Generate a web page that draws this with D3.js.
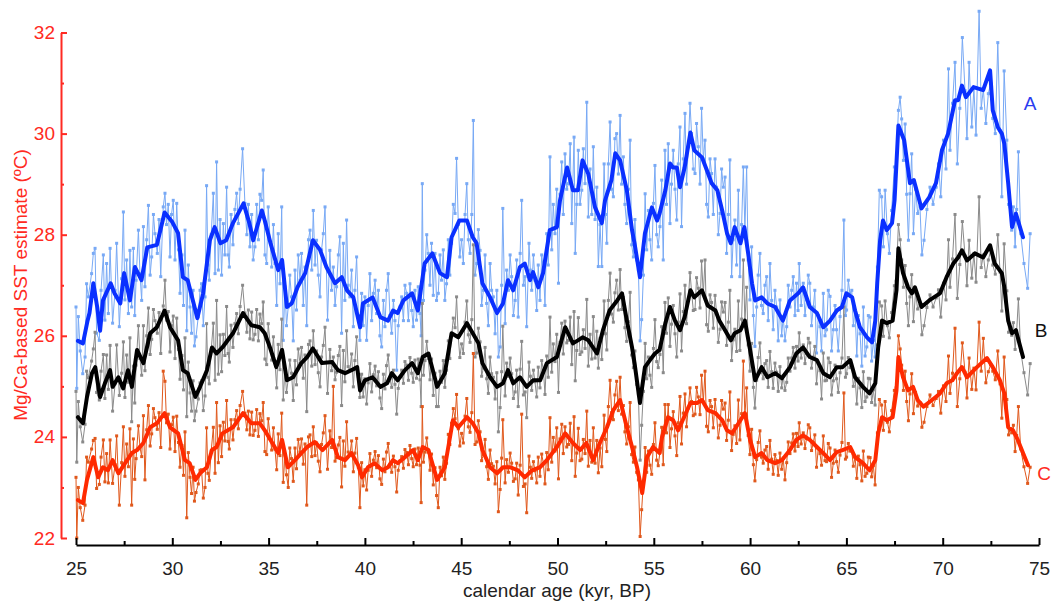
<!DOCTYPE html>
<html><head><meta charset="utf-8">
<script src="https://cdn.jsdelivr.net/npm/d3@7"></script>
<style>body{margin:0;background:#fff}svg{display:block}</style>
</head><body><svg id="c" width="1053" height="606"></svg>
<script>
const xTicks=[25,30,35,40,45,50,55,60,65,70,75];
const xMinor=[27.5,32.5,37.5,42.5,47.5,52.5,57.5,62.5,67.5,72.5];
const yTicks=[22,24,26,28,30,32];
const yMinor=[23,25,27,29,31];
const seriesLabels=["A","B","C"];
const xTitle="calendar age (kyr, BP)";
const yTitle="Mg/Ca-based SST estimate (ºC)";

const rawA=[
[25.00,26.57],[25.04,24.96],[25.12,26.38],[25.22,25.7],[25.35,25.25],[25.47,25.58],[25.55,27.03],[25.64,26.77],[25.81,27.23],[25.90,27.63],[25.99,27.73],[26.07,26.05],[26.21,25.91],[26.30,26.9],[26.42,27.6],[26.50,26.31],[26.59,27.43],[26.68,26.44],[26.77,27.73],[26.90,26.25],[27.03,26.9],[27.11,27.83],[27.25,26.18],[27.37,27.13],[27.46,28.45],[27.54,26.71],[27.63,27.5],[27.72,26.44],[27.80,27.69],[27.89,26.57],[27.98,27.73],[28.05,26.4],[28.12,27.1],[28.24,28.09],[28.32,27.23],[28.41,26.7],[28.50,28.16],[28.58,26.97],[28.67,27.9],[28.76,28.58],[28.85,27.2],[28.93,27.56],[29.02,28.4],[29.10,28.02],[29.22,27.63],[29.31,28.3],[29.40,27.17],[29.53,28.55],[29.62,28.82],[29.70,28.2],[29.79,28.6],[29.88,27.56],[29.96,28.4],
[30.05,28.68],[30.14,27.5],[30.23,28.62],[30.32,27.7],[30.40,26.84],[30.50,27.6],[30.58,26.6],[30.66,28.09],[30.75,26.1],[30.83,27.4],[30.92,26.57],[31.00,26.05],[31.08,26.9],[31.15,25.8],[31.23,25.98],[31.35,26.38],[31.44,26.9],[31.52,27.03],[31.61,26.2],[31.70,26.77],[31.78,28.97],[31.85,27.4],[31.92,27.1],[32.02,28.0],[32.13,28.82],[32.22,27.23],[32.30,29.44],[32.39,27.3],[32.48,28.3],[32.56,27.2],[32.65,28.22],[32.73,27.6],[32.82,28.94],[32.90,27.6],[32.96,27.36],[33.05,28.4],[33.15,27.8],[33.25,28.5],[33.34,28.82],[33.43,28.22],[33.52,28.9],[33.65,29.7],[33.77,28.62],[33.87,28.0],[33.95,28.6],[34.03,27.76],[34.12,28.4],[34.20,27.5],[34.29,27.76],[34.38,28.6],[34.47,27.9],[34.55,28.8],[34.64,28.68],[34.72,29.28],[34.81,27.6],[34.90,27.43],[34.98,28.55],
[35.16,27.36],[35.25,28.2],[35.33,27.43],[35.42,26.6],[35.50,28.02],[35.59,27.03],[35.68,28.55],[35.76,25.91],[35.85,26.97],[35.93,26.2],[36.02,26.57],[36.10,27.2],[36.19,26.77],[36.28,25.9],[36.37,27.3],[36.45,26.51],[36.54,27.6],[36.63,27.1],[36.71,27.63],[36.80,26.6],[36.89,27.36],[36.98,26.2],[37.07,27.9],[37.15,28.09],[37.24,27.3],[37.32,28.48],[37.41,27.4],[37.49,27.89],[37.58,27.2],[37.67,26.77],[37.75,27.7],[37.84,28.02],[37.93,28.55],[38.06,26.31],[38.18,27.69],[38.27,26.9],[38.36,27.36],[38.45,26.6],[38.53,26.97],[38.62,27.6],[38.70,27.96],[38.79,26.05],[38.88,27.83],[38.96,26.7],[39.05,28.29],[39.13,27.0],[39.22,26.77],[39.31,27.3],[39.40,26.18],[39.48,26.9],[39.57,27.56],[39.66,26.4],[39.74,25.91],[39.83,26.84],[39.91,26.2],
[40.00,26.77],[40.09,25.91],[40.17,26.6],[40.26,27.23],[40.35,26.3],[40.44,26.84],[40.53,27.1],[40.61,26.44],[40.70,26.9],[40.78,26.0],[40.87,25.78],[40.96,26.7],[41.04,26.18],[41.12,26.9],[41.21,27.23],[41.30,26.4],[41.39,26.05],[41.48,26.7],[41.56,26.3],[41.65,25.32],[41.73,26.2],[41.82,26.57],[41.91,26.77],[42.00,26.3],[42.08,27.0],[42.17,26.84],[42.26,26.3],[42.34,27.03],[42.43,26.5],[42.51,26.18],[42.60,26.9],[42.68,26.31],[42.77,26.97],[42.86,26.44],[42.92,26.0],[42.98,29.01],[43.04,26.7],[43.12,27.3],[43.21,28.0],[43.29,27.63],[43.38,27.0],[43.46,27.83],[43.55,26.8],[43.64,27.63],[43.72,26.7],[43.81,26.84],[43.90,27.6],[43.98,27.1],[44.07,27.7],[44.15,26.7],[44.24,27.03],[44.33,27.9],[44.41,27.2],[44.50,27.83],[44.59,28.6],[44.68,28.42],[44.76,29.51],[44.85,28.2],[44.93,27.56],[45.02,27.9],
[45.11,27.43],[45.20,28.4],[45.29,29.01],[45.37,27.9],[45.46,27.63],[45.55,28.4],[45.63,30.26],[45.72,27.2],[45.81,27.43],[45.89,28.1],[45.98,27.69],[46.06,26.6],[46.15,26.9],[46.24,27.6],[46.32,26.64],[46.41,26.2],[46.50,27.43],[46.58,26.9],[46.67,26.77],[46.76,26.04],[46.85,26.9],[46.93,25.58],[47.02,25.78],[47.10,27.0],[47.16,28.52],[47.28,26.24],[47.36,27.3],[47.45,26.9],[47.54,27.6],[47.62,27.17],[47.71,26.4],[47.80,26.7],[47.88,27.5],[47.96,26.37],[48.06,27.63],[48.14,28.68],[48.23,27.0],[48.32,27.17],[48.40,26.18],[48.52,27.83],[48.59,27.3],[48.66,26.9],[48.75,27.6],[48.83,27.1],[48.92,26.5],[49.00,27.4],[49.09,26.7],[49.18,27.6],[49.27,27.3],[49.35,26.6],[49.44,28.02],[49.52,27.4],[49.61,29.54],[49.70,27.7],[49.78,28.6],[49.87,28.02],[49.96,28.9],
[50.05,27.04],[50.13,28.8],[50.22,29.44],[50.30,28.4],[50.39,29.6],[50.48,28.9],[50.57,29.01],[50.66,29.8],[50.74,28.22],[50.86,29.93],[50.92,27.63],[51.00,28.6],[51.08,29.67],[51.17,28.6],[51.26,28.88],[51.34,29.7],[51.43,29.01],[51.52,30.62],[51.60,28.35],[51.69,29.3],[51.78,28.4],[51.86,29.74],[51.95,28.3],[52.04,28.94],[52.12,27.37],[52.21,28.2],[52.30,27.37],[52.42,29.4],[52.49,28.4],[52.56,27.83],[52.64,29.4],[52.73,30.23],[52.81,28.9],[52.90,28.75],[52.98,29.9],[53.07,30.0],[53.16,29.2],[53.25,30.36],[53.33,29.0],[53.42,29.54],[53.50,28.6],[53.59,28.22],[53.68,28.9],[53.77,29.87],[53.85,27.8],[53.94,27.56],[54.02,28.3],[54.11,27.5],[54.20,27.3],[54.29,25.9],[54.37,26.32],[54.46,27.2],[54.55,28.81],[54.63,27.7],[54.72,28.48],[54.80,27.9],[54.89,27.5],[54.98,28.62],
[55.06,29.37],[55.15,28.0],[55.23,27.76],[55.32,28.16],[55.41,29.08],[55.49,27.5],[55.58,29.67],[55.66,28.6],[55.75,29.8],[55.84,28.22],[55.92,29.0],[56.01,29.67],[56.10,28.9],[56.19,28.29],[56.27,29.4],[56.36,30.13],[56.44,28.16],[56.53,29.5],[56.62,30.4],[56.70,29.0],[56.79,29.74],[56.88,30.6],[56.96,30.0],[57.05,29.3],[57.14,29.21],[57.22,30.2],[57.31,29.74],[57.40,29.0],[57.48,30.5],[57.57,29.5],[57.66,29.87],[57.74,28.6],[57.83,28.35],[57.92,29.5],[58.00,29.21],[58.09,28.4],[58.18,29.5],[58.26,28.94],[58.35,28.0],[58.44,28.42],[58.52,29.3],[58.61,28.94],[58.70,29.14],[58.78,27.63],[58.87,28.4],[58.95,29.48],[59.04,27.17],[59.12,27.9],[59.21,28.29],[59.30,27.4],[59.39,28.88],[59.47,27.17],[59.56,28.2],[59.65,29.34],[59.73,28.09],[59.82,29.34],[59.90,27.5],[59.99,26.71],
[60.08,27.76],[60.17,26.4],[60.25,25.79],[60.34,26.57],[60.42,27.2],[60.51,27.63],[60.59,26.6],[60.68,26.44],[60.77,27.0],[60.86,27.17],[60.94,26.3],[61.03,27.43],[61.12,26.7],[61.20,26.12],[61.29,26.9],[61.38,26.57],[61.46,25.9],[61.55,26.71],[61.64,26.0],[61.72,26.38],[61.81,25.9],[61.90,26.18],[61.98,27.0],[62.07,26.57],[62.16,26.9],[62.24,27.17],[62.33,26.4],[62.41,27.04],[62.49,26.5],[62.55,27.43],[62.65,26.6],[62.76,27.04],[62.85,26.4],[62.93,26.71],[63.02,27.2],[63.10,27.04],[63.19,26.2],[63.28,26.57],[63.36,26.9],[63.45,25.66],[63.54,26.4],[63.63,26.18],[63.71,25.7],[63.80,26.84],[63.89,26.0],[63.97,26.12],[64.06,26.9],[64.15,26.78],[64.23,25.7],[64.32,26.12],[64.41,26.6],[64.49,26.12],[64.58,25.7],[64.67,26.38],[64.77,26.9],[64.87,28.29],[64.95,26.4],
[65.01,26.51],[65.10,27.1],[65.18,26.84],[65.28,26.9],[65.36,26.2],[65.45,26.5],[65.54,25.6],[65.62,26.4],[65.71,26.04],[65.80,25.4],[65.88,26.57],[65.97,25.6],[66.06,25.78],[66.14,26.4],[66.23,26.37],[66.31,25.5],[66.40,25.91],[66.49,25.58],[66.61,27.36],[66.71,28.88],[66.83,28.75],[66.92,27.76],[67.01,28.88],[67.13,28.02],[67.23,27.63],[67.35,28.48],[67.49,29.34],[67.58,29.34],[67.70,30.46],[67.79,30.72],[67.87,30.29],[67.96,29.47],[68.05,30.19],[68.13,28.8],[68.22,27.89],[68.30,28.81],[68.39,29.6],[68.48,28.02],[68.59,28.9],[68.70,28.42],[68.82,28.55],[68.92,27.6],[69.03,27.89],[69.18,28.5],[69.34,28.94],[69.50,28.6],[69.66,28.94],[69.78,29.4],[69.90,28.75],
[70.04,29.87],[70.17,29.3],[70.30,31.28],[70.38,29.67],[70.51,30.6],[70.64,31.41],[70.76,29.4],[70.89,30.5],[71.02,31.9],[71.16,30.85],[71.26,29.9],[71.37,31.41],[71.51,30.13],[71.62,30.9],[71.73,29.97],[71.89,32.42],[72.00,30.5],[72.11,30.88],[72.24,30.2],[72.37,30.79],[72.49,31.0],[72.60,30.3],[72.73,30.0],[72.86,31.8],[72.98,30.06],[73.07,28.75],[73.19,31.24],[73.33,29.87],[73.42,28.6],[73.50,28.55],[73.58,28.09],[73.67,28.55],[73.76,27.76],[73.84,28.5],[73.93,29.64],[74.05,28.02],[74.22,27.43],[74.41,26.94],[74.54,28.02]
];

const rawB=[
[25.00,24.9],[25.04,23.5],[25.12,24.7],[25.22,24.2],[25.35,23.9],[25.47,24.25],[25.55,25.3],[25.64,25.17],[25.81,25.5],[25.90,25.74],[25.99,26.07],[26.07,24.88],[26.21,24.73],[26.30,25.3],[26.42,25.63],[26.50,24.76],[26.59,25.62],[26.68,24.94],[26.77,25.81],[26.90,24.51],[27.03,25.05],[27.11,25.82],[27.25,24.82],[27.37,25.26],[27.46,25.88],[27.54,24.78],[27.63,25.62],[27.72,25.08],[27.80,25.96],[27.89,24.3],[27.98,25.4],[28.05,24.67],[28.12,25.42],[28.24,26.2],[28.32,25.55],[28.41,25.22],[28.50,26.2],[28.58,25.31],[28.67,26.0],[28.76,26.55],[28.85,25.63],[28.93,25.93],[29.02,26.52],[29.10,26.3],[29.22,26.05],[29.31,26.46],[29.40,25.65],[29.53,26.59],[29.62,27.1],[29.70,26.31],[29.79,26.48],[29.88,25.68],[29.96,26.2],
[30.05,26.39],[30.14,25.55],[30.23,26.35],[30.32,25.73],[30.40,25.14],[30.50,25.61],[30.58,24.93],[30.66,25.96],[30.75,24.4],[30.83,25.48],[30.92,24.87],[31.00,24.51],[31.08,25.11],[31.15,24.32],[31.23,24.51],[31.35,24.75],[31.44,25.07],[31.52,25.11],[31.61,24.52],[31.70,24.81],[31.78,26.24],[31.85,25.18],[31.92,25.05],[32.02,25.72],[32.13,26.25],[32.22,25.12],[32.30,26.7],[32.39,25.24],[32.48,26.02],[32.56,25.29],[32.65,26.03],[32.73,25.61],[32.82,26.58],[32.90,25.65],[32.96,25.48],[33.05,26.21],[33.15,25.77],[33.25,26.24],[33.34,26.44],[33.43,26.04],[33.52,26.58],[33.65,27.0],[33.77,26.45],[33.87,26.07],[33.95,26.51],[34.03,25.94],[34.12,26.47],[34.20,25.92],[34.29,26.03],[34.38,26.52],[34.47,25.9],[34.55,26.43],[34.64,26.24],[34.72,26.67],[34.81,25.54],[34.90,25.43],[34.98,26.24],
[35.16,25.52],[35.25,25.98],[35.33,25.48],[35.42,24.97],[35.50,25.83],[35.59,25.33],[35.68,26.33],[35.76,24.73],[35.85,25.34],[35.93,24.88],[36.02,25.14],[36.10,25.52],[36.19,25.26],[36.28,24.72],[36.37,25.51],[36.45,25.03],[36.54,25.74],[36.63,25.45],[36.71,25.77],[36.80,25.16],[36.89,25.62],[36.98,24.5],[37.07,25.83],[37.15,25.9],[37.24,25.4],[37.32,26.1],[37.41,25.43],[37.49,25.7],[37.58,25.27],[37.67,24.99],[37.75,25.58],[37.84,25.81],[37.93,26.17],[38.06,24.86],[38.18,25.73],[38.27,25.31],[38.36,25.58],[38.45,25.13],[38.53,25.28],[38.62,25.61],[38.70,25.79],[38.79,24.62],[38.88,25.71],[38.96,25.09],[39.05,26.1],[39.13,25.39],[39.22,25.32],[39.31,25.64],[39.40,24.99],[39.48,25.51],[39.57,25.98],[39.66,25.2],[39.74,24.78],[39.83,25.24],[39.91,24.79],
[40.00,25.15],[40.09,24.65],[40.17,25.07],[40.26,25.45],[40.35,24.89],[40.44,25.23],[40.53,25.4],[40.61,25.01],[40.70,25.29],[40.78,24.77],[40.87,24.56],[40.96,25.24],[41.04,24.95],[41.12,25.41],[41.21,25.62],[41.30,25.15],[41.39,24.98],[41.48,25.32],[41.56,25.04],[41.65,24.45],[41.73,24.96],[41.82,25.18],[41.91,25.32],[42.00,25.06],[42.08,25.49],[42.17,25.42],[42.26,25.12],[42.34,25.57],[42.43,25.26],[42.51,25.08],[42.60,25.52],[42.68,25.16],[42.77,25.54],[42.86,25.13],[42.92,24.6],[42.98,26.64],[43.04,25.22],[43.12,25.51],[43.21,25.89],[43.29,25.55],[43.38,25.13],[43.46,25.54],[43.55,24.82],[43.64,25.26],[43.72,24.6],[43.81,24.6],[43.90,25.3],[43.98,25.08],[44.07,25.51],[44.15,24.98],[44.24,25.32],[44.33,25.9],[44.41,25.55],[44.50,25.98],[44.59,26.35],[44.68,26.16],[44.76,26.77],[44.85,25.97],[44.93,25.57],[45.02,25.84],
[45.11,25.65],[45.20,26.27],[45.29,26.69],[45.37,26.02],[45.46,25.87],[45.55,26.32],[45.63,27.8],[45.72,25.58],[45.81,25.66],[45.89,26.15],[45.98,25.88],[46.06,25.2],[46.15,25.36],[46.24,25.77],[46.32,25.15],[46.41,24.86],[46.50,25.58],[46.58,25.25],[46.67,25.18],[46.76,24.75],[46.85,25.27],[46.93,24.1],[47.02,24.58],[47.10,25.29],[47.16,26.19],[47.28,24.81],[47.36,25.46],[47.45,25.2],[47.54,25.56],[47.62,25.25],[47.71,24.76],[47.80,24.89],[47.88,25.32],[47.96,24.6],[48.06,25.34],[48.14,25.89],[48.23,24.83],[48.32,24.89],[48.40,24.38],[48.52,25.48],[48.59,25.2],[48.66,24.92],[48.75,25.32],[48.83,25.09],[48.92,24.79],[49.00,25.38],[49.09,24.97],[49.18,25.51],[49.27,25.32],[49.35,24.84],[49.44,25.6],[49.52,25.18],[49.61,26.37],[49.70,25.28],[49.78,25.84],[49.87,25.49],[49.96,26.03],
[50.05,24.88],[50.13,25.87],[50.22,26.25],[50.30,25.64],[50.39,26.29],[50.48,25.86],[50.57,25.91],[50.66,26.37],[50.74,25.43],[50.86,26.48],[50.92,25.11],[51.00,25.71],[51.08,26.36],[51.17,25.63],[51.26,25.68],[51.34,26.12],[51.43,25.75],[51.52,26.72],[51.60,25.4],[51.69,26.03],[51.78,25.54],[51.86,26.38],[51.95,25.56],[52.04,26.09],[52.12,25.36],[52.21,25.95],[52.30,25.53],[52.42,26.69],[52.49,26.04],[52.56,25.72],[52.64,26.7],[52.73,27.24],[52.81,26.43],[52.90,26.27],[52.98,26.85],[53.07,27.1],[53.16,26.51],[53.25,27.31],[53.33,26.52],[53.42,26.76],[53.50,26.16],[53.59,25.89],[53.68,26.28],[53.77,26.86],[53.85,25.62],[53.94,25.37],[54.02,25.7],[54.11,25.04],[54.20,24.85],[54.29,23.54],[54.37,24.23],[54.46,24.9],[54.55,25.85],[54.63,25.15],[54.72,25.58],[54.80,25.22],[54.89,24.98],[54.98,25.75],
[55.06,26.32],[55.15,25.49],[55.23,25.37],[55.32,25.63],[55.41,26.18],[55.49,25.27],[55.58,26.66],[55.66,26.05],[55.75,26.75],[55.84,25.79],[55.92,26.23],[56.01,26.6],[56.10,26.04],[56.19,25.58],[56.27,26.27],[56.36,26.83],[56.44,25.7],[56.53,26.48],[56.62,27.0],[56.70,26.24],[56.79,26.71],[56.88,27.25],[56.96,26.88],[57.05,26.5],[57.14,26.52],[57.22,27.15],[57.31,26.94],[57.40,26.55],[57.48,27.48],[57.57,26.83],[57.66,27.5],[57.74,26.22],[57.83,26.09],[57.92,26.81],[58.00,26.66],[58.09,26.15],[58.18,26.8],[58.26,26.44],[58.35,25.87],[58.44,26.13],[58.52,26.67],[58.61,26.47],[58.70,26.66],[58.78,25.81],[58.87,26.27],[58.95,26.9],[59.04,25.51],[59.12,25.92],[59.21,26.13],[59.30,25.69],[59.39,26.69],[59.47,25.71],[59.56,26.33],[59.65,27.5],[59.73,26.26],[59.82,26.96],[59.90,25.82],[59.99,25.3],
[60.08,25.85],[60.17,24.98],[60.25,24.57],[60.34,25.12],[60.42,25.57],[60.51,25.86],[60.59,25.28],[60.68,25.15],[60.77,25.45],[60.86,25.51],[60.94,24.98],[61.03,25.69],[61.12,25.29],[61.20,24.96],[61.29,25.46],[61.38,25.28],[61.46,24.9],[61.55,25.39],[61.64,24.97],[61.72,25.21],[61.81,24.92],[61.90,25.08],[61.98,25.56],[62.07,25.3],[62.16,25.56],[62.24,25.77],[62.33,25.36],[62.41,25.79],[62.49,25.5],[62.55,26.06],[62.65,25.56],[62.76,25.82],[62.85,25.45],[62.93,25.65],[63.02,25.95],[63.10,25.86],[63.19,25.36],[63.28,25.58],[63.36,25.79],[63.45,25.05],[63.54,25.45],[63.63,25.31],[63.71,24.75],[63.80,25.66],[63.89,25.11],[63.97,25.12],[64.06,25.56],[64.15,25.47],[64.23,24.83],[64.32,25.11],[64.41,25.42],[64.49,25.15],[64.58,24.88],[64.67,25.27],[64.77,25.56],[64.87,26.57],[64.95,25.18],
[65.01,25.25],[65.10,25.57],[65.18,25.37],[65.28,25.38],[65.36,25.0],[65.45,25.18],[65.54,24.65],[65.62,25.16],[65.71,24.97],[65.80,24.58],[65.88,25.29],[65.97,24.7],[66.06,24.79],[66.14,25.16],[66.23,25.15],[66.31,24.68],[66.40,24.93],[66.49,24.63],[66.61,25.82],[66.71,26.67],[66.83,26.59],[66.92,25.99],[67.01,26.69],[67.13,26.2],[67.23,25.96],[67.35,26.46],[67.49,26.99],[67.58,27.08],[67.70,28.2],[67.79,27.9],[67.87,27.5],[67.96,26.96],[68.05,27.39],[68.13,26.64],[68.22,26.2],[68.30,26.77],[68.39,27.21],[68.48,26.28],[68.59,26.85],[68.70,26.53],[68.82,26.6],[68.92,26.02],[69.03,26.2],[69.18,26.56],[69.34,26.81],[69.50,26.57],[69.66,26.75],[69.78,26.91],[69.90,26.37],
[70.04,27.04],[70.17,26.71],[70.30,27.9],[70.38,26.96],[70.51,27.52],[70.64,28.4],[70.76,26.74],[70.89,27.41],[71.02,28.26],[71.16,27.58],[71.26,26.99],[71.37,27.89],[71.51,27.14],[71.62,27.63],[71.73,27.06],[71.89,28.75],[72.00,27.35],[72.11,27.6],[72.24,27.17],[72.37,27.5],[72.49,27.69],[72.60,27.4],[72.73,27.22],[72.86,28.0],[72.98,27.26],[73.07,26.49],[73.19,27.82],[73.33,26.89],[73.42,26.07],[73.50,26.15],[73.58,26.01],[73.67,26.26],[73.76,25.73],[73.84,26.09],[73.93,26.73],[74.05,25.7],[74.22,25.27],[74.41,24.83],[74.54,25.45]
];

const rawC=[
[25.00,23.2],[25.04,22.0],[25.12,23.0],[25.22,22.6],[25.35,22.35],[25.47,22.65],[25.55,23.6],[25.64,23.5],[25.81,23.76],[25.90,23.93],[25.99,23.97],[26.07,22.98],[26.21,23.06],[26.30,23.6],[26.42,23.94],[26.50,23.11],[26.59,23.67],[26.68,23.09],[26.77,23.94],[26.90,23.08],[27.03,23.45],[27.11,24.02],[27.25,22.65],[27.37,23.49],[27.46,24.2],[27.54,23.22],[27.63,23.86],[27.72,23.41],[27.80,24.16],[27.89,22.65],[27.98,23.96],[28.05,23.16],[28.12,23.57],[28.24,24.22],[28.32,23.8],[28.41,23.61],[28.50,24.42],[28.58,23.15],[28.67,24.14],[28.76,24.62],[28.85,23.82],[28.93,24.06],[29.02,24.56],[29.10,24.38],[29.22,24.15],[29.31,24.48],[29.40,23.79],[29.53,25.3],[29.62,25.1],[29.70,24.28],[29.79,24.45],[29.88,23.76],[29.96,24.24],
[30.05,24.39],[30.14,23.71],[30.23,24.41],[30.32,23.89],[30.40,23.4],[30.50,23.83],[30.58,23.24],[30.66,24.1],[30.75,22.4],[30.83,23.69],[30.92,23.2],[31.00,22.88],[31.08,23.4],[31.15,22.73],[31.23,22.9],[31.35,23.07],[31.44,23.34],[31.52,23.35],[31.61,22.79],[31.70,23.0],[31.78,24.18],[31.85,23.28],[31.92,23.14],[32.02,23.72],[32.13,24.19],[32.22,23.28],[32.30,24.68],[32.39,23.49],[32.48,24.22],[32.56,23.61],[32.65,24.29],[32.73,23.92],[32.82,24.72],[32.90,23.91],[32.96,23.76],[33.05,24.34],[33.15,23.94],[33.25,24.34],[33.34,24.52],[33.43,24.16],[33.52,24.62],[33.65,24.9],[33.77,24.47],[33.87,24.14],[33.95,24.51],[34.03,24.04],[34.12,24.49],[34.20,24.03],[34.29,24.13],[34.38,24.54],[34.47,24.01],[34.55,24.46],[34.64,24.32],[34.72,24.68],[34.81,23.71],[34.90,23.65],[34.98,24.36],
[35.16,23.74],[35.25,24.18],[35.33,23.76],[35.42,23.35],[35.50,24.06],[35.59,23.63],[35.68,24.47],[35.76,23.1],[35.85,23.64],[35.93,23.25],[36.02,23.0],[36.10,23.78],[36.19,23.57],[36.28,23.12],[36.37,23.78],[36.45,23.37],[36.54,23.95],[36.63,23.7],[36.71,23.96],[36.80,23.46],[36.89,23.86],[36.98,22.65],[37.07,24.0],[37.15,24.04],[37.24,23.61],[37.32,24.2],[37.41,23.63],[37.49,23.88],[37.58,23.52],[37.67,23.31],[37.75,23.85],[37.84,24.08],[37.93,24.42],[38.06,23.36],[38.18,24.12],[38.27,23.79],[38.36,25.0],[38.45,23.52],[38.53,23.59],[38.62,23.84],[38.70,23.99],[38.79,23.01],[38.88,23.92],[38.96,23.42],[39.05,24.3],[39.13,23.7],[39.22,23.64],[39.31,23.92],[39.40,23.31],[39.48,23.68],[39.57,23.97],[39.66,23.4],[39.74,22.6],[39.83,23.49],[39.91,23.03],
[40.00,23.35],[40.09,22.95],[40.17,23.34],[40.26,23.67],[40.35,23.22],[40.44,23.54],[40.53,23.71],[40.61,23.39],[40.70,23.63],[40.78,23.17],[40.87,23.06],[40.96,23.56],[41.04,23.31],[41.12,23.7],[41.21,23.87],[41.30,23.46],[41.39,23.3],[41.48,23.62],[41.56,23.41],[41.65,22.91],[41.73,23.34],[41.82,23.52],[41.91,23.61],[42.00,23.38],[42.08,23.75],[42.17,23.69],[42.26,23.45],[42.34,23.83],[42.43,23.57],[42.51,23.41],[42.60,23.76],[42.68,23.45],[42.77,23.78],[42.86,23.44],[42.92,22.7],[42.98,24.6],[43.04,23.5],[43.12,23.7],[43.21,23.98],[43.29,23.7],[43.38,23.34],[43.46,23.66],[43.55,23.05],[43.64,23.39],[43.72,22.84],[43.81,22.6],[43.90,23.4],[43.98,23.23],[44.07,23.6],[44.15,23.16],[44.24,23.48],[44.33,24.05],[44.41,23.85],[44.50,24.27],[44.59,24.56],[44.68,24.36],[44.76,24.84],[44.85,24.16],[44.93,23.82],[45.02,24.07],
[45.11,23.88],[45.20,24.41],[45.29,24.76],[45.37,24.2],[45.46,24.09],[45.55,24.48],[45.63,25.65],[45.72,23.85],[45.81,23.9],[45.89,24.32],[45.98,24.1],[46.06,23.53],[46.15,23.65],[46.24,23.95],[46.32,23.41],[46.41,23.16],[46.50,23.74],[46.58,23.47],[46.67,23.42],[46.76,23.07],[46.85,23.51],[46.93,22.52],[47.02,22.96],[47.10,23.58],[47.16,24.34],[47.28,23.09],[47.36,23.55],[47.45,23.3],[47.54,23.68],[47.62,23.48],[47.71,23.12],[47.80,23.17],[47.88,23.48],[47.96,22.85],[48.06,23.44],[48.14,24.45],[48.23,23.02],[48.32,23.07],[48.40,22.5],[48.52,23.62],[48.59,23.4],[48.66,23.18],[48.75,23.51],[48.83,23.33],[48.92,23.09],[49.00,23.6],[49.09,23.22],[49.18,23.66],[49.27,23.47],[49.35,23.07],[49.44,23.69],[49.52,23.35],[49.61,24.38],[49.70,23.5],[49.78,23.99],[49.87,23.72],[49.96,24.18],
[50.05,23.17],[50.13,23.96],[50.22,24.25],[50.30,23.67],[50.39,24.2],[50.48,23.8],[50.57,23.85],[50.66,24.27],[50.74,23.53],[50.86,24.4],[50.92,23.22],[51.00,23.68],[51.08,24.17],[51.17,23.53],[51.26,23.56],[51.34,23.95],[51.43,23.67],[51.52,24.51],[51.60,23.42],[51.69,23.93],[51.78,23.5],[51.86,24.18],[51.95,23.48],[52.04,23.93],[52.12,23.29],[52.21,23.78],[52.30,23.41],[52.42,24.43],[52.49,23.95],[52.56,23.71],[52.64,24.6],[52.73,25.12],[52.81,24.48],[52.90,24.34],[52.98,24.83],[53.07,25.1],[53.16,24.52],[53.25,25.18],[53.33,24.45],[53.42,24.62],[53.50,24.1],[53.59,23.86],[53.68,24.2],[53.77,24.68],[53.85,23.65],[53.94,23.5],[54.02,23.8],[54.11,23.3],[54.20,23.15],[54.29,22.03],[54.37,22.56],[54.46,23.1],[54.55,23.79],[54.63,23.3],[54.72,23.72],[54.80,23.44],[54.89,23.26],[54.98,23.85],
[55.06,24.28],[55.15,23.54],[55.23,23.43],[55.32,23.7],[55.41,24.19],[55.49,23.45],[55.58,24.64],[55.66,24.08],[55.75,24.64],[55.84,23.79],[55.92,24.16],[56.01,24.5],[56.10,24.02],[56.19,23.63],[56.27,24.28],[56.36,24.8],[56.44,23.86],[56.53,24.47],[56.62,24.85],[56.70,24.2],[56.79,24.57],[56.88,24.97],[56.96,24.7],[57.05,24.42],[57.14,24.45],[57.22,24.98],[57.31,24.79],[57.40,24.44],[57.48,25.22],[57.57,24.69],[57.66,25.3],[57.74,24.21],[57.83,24.1],[57.92,24.72],[58.00,24.6],[58.09,24.18],[58.18,24.74],[58.26,24.45],[58.35,23.98],[58.44,24.23],[58.52,24.72],[58.61,24.55],[58.70,24.67],[58.78,23.93],[58.87,24.33],[58.95,24.89],[59.04,23.73],[59.12,24.05],[59.21,24.22],[59.30,23.87],[59.39,24.73],[59.47,23.94],[59.56,24.46],[59.65,25.5],[59.73,24.42],[59.82,24.97],[59.90,24.03],[59.99,23.65],
[60.08,24.15],[60.17,23.45],[60.25,23.13],[60.34,23.55],[60.42,23.89],[60.51,24.12],[60.59,23.6],[60.68,23.48],[60.77,23.74],[60.86,23.81],[60.94,23.36],[61.03,23.93],[61.12,23.56],[61.20,23.26],[61.29,23.65],[61.38,23.53],[61.46,23.24],[61.55,23.68],[61.64,23.36],[61.72,23.58],[61.81,23.15],[61.90,23.49],[61.98,23.9],[62.07,23.67],[62.16,23.88],[62.24,24.06],[62.33,23.72],[62.41,24.07],[62.49,23.81],[62.55,24.28],[62.65,23.86],[62.76,24.08],[62.85,23.77],[62.93,23.97],[63.02,24.24],[63.10,24.18],[63.19,23.73],[63.28,23.89],[63.36,24.04],[63.45,23.4],[63.54,23.77],[63.63,23.67],[63.71,23.44],[63.80,24.02],[63.89,23.53],[63.97,23.51],[64.06,23.87],[64.15,23.78],[64.23,23.2],[64.32,23.48],[64.41,23.74],[64.49,23.51],[64.58,23.3],[64.67,23.64],[64.77,23.89],[64.87,24.87],[64.95,23.56],
[65.01,23.6],[65.10,23.87],[65.18,23.72],[65.28,23.72],[65.36,23.42],[65.45,23.6],[65.54,23.18],[65.62,23.62],[65.71,23.45],[65.80,23.13],[65.88,23.72],[65.97,23.22],[66.06,23.28],[66.14,23.6],[66.23,23.59],[66.31,23.21],[66.40,23.43],[66.49,23.05],[66.61,24.08],[66.71,24.74],[66.83,24.63],[66.92,24.13],[67.01,24.7],[67.13,24.29],[67.23,24.1],[67.35,24.52],[67.49,24.92],[67.58,24.97],[67.70,26.0],[67.79,25.74],[67.87,25.42],[67.96,24.92],[68.05,25.3],[68.13,24.7],[68.22,24.32],[68.30,24.85],[68.39,25.25],[68.48,24.46],[68.59,24.88],[68.70,24.61],[68.82,24.68],[68.92,24.19],[69.03,24.29],[69.18,24.6],[69.34,24.83],[69.50,24.62],[69.66,24.76],[69.78,24.9],[69.90,24.47],
[70.04,25.01],[70.17,24.7],[70.30,25.6],[70.38,24.86],[70.51,25.26],[70.64,26.15],[70.76,24.6],[70.89,25.15],[71.02,25.86],[71.16,25.28],[71.26,24.77],[71.37,25.56],[71.51,24.94],[71.62,25.36],[71.73,24.93],[71.89,26.27],[72.00,25.3],[72.11,25.95],[72.24,25.07],[72.37,25.29],[72.49,25.43],[72.60,25.3],[72.73,25.13],[72.86,25.7],[72.98,25.05],[73.07,24.37],[73.19,25.58],[73.33,24.74],[73.42,24.04],[73.50,24.15],[73.58,24.08],[73.67,24.23],[73.76,23.71],[73.84,24.03],[73.93,24.6],[74.05,23.76],[74.22,23.41],[74.41,23.08],[74.54,23.4]
];

const smoothA=[[25.1,25.9],[25.36,25.85],[25.6,26.3],[25.7,26.45],[25.9,27.04],[26.1,26.57],[26.25,26.1],[26.4,26.7],[26.8,27.04],[27.0,26.84],[27.3,26.64],[27.5,27.24],[27.8,26.7],[28.06,27.36],[28.4,27.1],[28.7,27.75],[29.2,27.8],[29.6,28.44],[30.0,28.25],[30.3,28.03],[30.55,27.16],[30.8,27.1],[31.3,26.35],[31.6,26.84],[31.95,27.89],[32.2,28.15],[32.5,27.83],[32.8,27.89],[33.15,28.23],[33.7,28.62],[34.0,28.23],[34.2,27.89],[34.65,28.48],[34.8,28.28],[35.1,27.83],[35.5,27.3],[35.7,27.5],[35.95,26.57],[36.2,26.64],[36.5,26.96],[36.9,27.24],[37.3,27.89],[37.67,27.7],[38.0,27.36],[38.45,27.04],[38.8,27.16],[39.07,26.9],[39.4,26.76],[39.75,26.17],[39.9,26.64],[40.4,26.76],[40.8,26.37],[41.2,26.3],[41.46,26.5],[41.7,26.45],[42.0,26.7],[42.45,26.84],[42.75,26.5],[43.1,27.43],[43.5,27.63],[43.9,27.24],[44.26,27.16],[44.5,27.95],[44.9,28.28],[45.3,28.28],[45.6,27.95],[45.8,27.83],[46.1,27.04],[46.5,26.76],[46.86,26.45],[47.17,26.64],[47.43,27.1],[47.7,26.9],[48.05,27.36],[48.3,27.43],[48.57,27.1],[48.73,27.26],[49.0,26.96],[49.25,27.24],[49.6,28.09],[49.97,28.15],[50.13,28.68],[50.5,29.33],[50.8,28.88],[51.06,28.88],[51.3,29.47],[51.6,29.2],[51.95,28.54],[52.3,28.23],[52.47,28.68],[52.8,29.08],[53.0,29.61],[53.25,29.47],[53.6,28.88],[53.87,28.09],[54.0,27.83],[54.28,27.16],[54.54,28.03],[54.9,28.54],[55.17,28.28],[55.3,28.42],[55.6,28.88],[55.84,29.41],[56.0,29.33],[56.2,29.33],[56.36,28.94],[56.6,29.33],[56.9,30.02],[57.1,29.67],[57.5,29.53],[57.76,29.27],[58.0,29.02],[58.3,28.88],[58.55,28.48],[58.8,28.03],[59.0,27.83],[59.2,28.15],[59.5,27.83],[59.7,28.15],[59.9,27.63],[60.1,27.04],[60.26,26.7],[60.6,26.76],[60.9,26.64],[61.3,26.57],[61.7,26.3],[62.07,26.7],[62.5,26.84],[62.75,26.96],[63.1,26.57],[63.47,26.45],[63.8,26.17],[64.15,26.3],[64.5,26.5],[64.77,26.57],[65.0,26.84],[65.3,26.76],[65.45,26.5],[65.7,26.17],[66.07,25.97],[66.33,25.87],[66.5,26.3],[66.6,27.04],[66.75,27.89],[66.9,28.28],[67.1,28.09],[67.37,28.23],[67.5,28.68],[67.7,30.16],[68.0,29.87],[68.3,29.02],[68.5,29.08],[68.9,28.52],[69.3,28.74],[69.65,29.02],[69.96,29.67],[70.28,30.0],[70.64,30.66],[70.8,30.66],[71.0,30.95],[71.2,30.72],[71.6,30.92],[72.1,30.86],[72.46,31.25],[72.6,30.46],[72.87,30.12],[73.07,30.0],[73.2,29.8],[73.4,29.02],[73.6,28.15],[73.8,28.42],[74.17,27.95]];

const smoothB=[[25.1,24.39],[25.36,24.27],[25.57,24.79],[25.83,25.26],[26.0,25.38],[26.25,24.79],[26.5,25.06],[26.77,25.32],[26.9,24.99],[27.2,25.18],[27.45,24.96],[27.7,25.32],[27.9,24.99],[28.17,25.72],[28.5,25.46],[28.85,26.05],[29.2,26.17],[29.6,26.5],[29.88,26.17],[30.3,25.91],[30.55,25.32],[30.8,25.26],[31.2,24.79],[31.44,24.99],[31.8,25.32],[32.06,25.77],[32.3,25.65],[32.6,25.77],[33.15,26.05],[33.67,26.45],[34.1,26.21],[34.55,26.17],[34.8,26.05],[35.07,25.77],[35.4,25.38],[35.7,25.72],[35.95,25.12],[36.27,25.18],[36.7,25.46],[37.0,25.58],[37.3,25.75],[37.77,25.46],[38.3,25.48],[38.6,25.32],[38.97,25.26],[39.3,25.32],[39.6,25.38],[39.75,24.92],[40.0,25.12],[40.4,25.18],[40.8,24.99],[41.15,25.06],[41.4,25.26],[41.7,25.12],[42.08,25.32],[42.45,25.46],[42.75,25.26],[43.0,25.58],[43.3,25.65],[43.75,24.99],[44.15,25.26],[44.5,26.05],[44.85,25.97],[45.3,26.25],[45.6,26.05],[45.9,25.85],[46.1,25.46],[46.5,25.18],[46.86,24.99],[47.17,25.06],[47.43,25.32],[47.7,25.06],[48.05,25.18],[48.4,24.99],[48.73,25.12],[49.1,25.12],[49.45,25.46],[49.97,25.58],[50.4,26.17],[50.8,25.85],[51.06,25.91],[51.3,25.97],[51.6,25.91],[52.05,25.65],[52.36,26.11],[52.7,26.5],[53.1,26.7],[53.35,26.84],[53.6,26.3],[53.87,25.77],[54.0,25.46],[54.28,24.67],[54.54,25.38],[54.8,25.52],[55.06,25.65],[55.3,25.72],[55.6,26.25],[55.84,26.57],[56.1,26.3],[56.36,26.11],[56.6,26.37],[56.9,26.9],[57.1,26.76],[57.5,26.9],[57.8,26.6],[58.2,26.5],[58.4,26.3],[58.7,26.11],[59.0,25.91],[59.2,26.05],[59.5,26.11],[59.73,26.3],[60.0,25.72],[60.26,25.12],[60.6,25.38],[60.9,25.18],[61.3,25.26],[61.65,25.16],[62.07,25.38],[62.4,25.65],[62.75,25.77],[63.1,25.58],[63.47,25.52],[63.8,25.26],[64.15,25.18],[64.5,25.38],[64.8,25.38],[65.2,25.52],[65.45,25.18],[65.86,24.99],[66.2,24.86],[66.5,25.06],[66.65,25.77],[66.85,26.3],[67.1,26.25],[67.4,26.3],[67.6,26.9],[67.7,27.73],[67.94,27.24],[68.2,26.96],[68.4,26.84],[68.56,26.96],[68.9,26.57],[69.3,26.7],[69.86,26.84],[70.2,27.16],[70.55,27.43],[70.8,27.55],[71.0,27.69],[71.26,27.49],[71.67,27.63],[72.1,27.55],[72.46,27.79],[72.7,27.43],[73.07,27.24],[73.2,26.96],[73.4,26.3],[73.6,26.05],[73.8,26.11],[74.17,25.58]];

const smoothC=[[25.1,22.75],[25.36,22.69],[25.57,23.15],[25.9,23.6],[26.15,23.2],[26.4,23.4],[26.66,23.34],[26.9,23.54],[27.2,23.28],[27.55,23.48],[27.9,23.68],[28.17,23.74],[28.5,23.88],[28.85,24.19],[29.2,24.27],[29.6,24.47],[29.88,24.19],[30.3,24.07],[30.66,23.54],[30.9,23.48],[31.2,23.15],[31.44,23.28],[31.8,23.4],[32.06,23.74],[32.3,23.8],[32.6,24.07],[33.15,24.19],[33.67,24.47],[34.1,24.27],[34.55,24.27],[34.8,24.13],[35.1,23.94],[35.5,23.68],[35.7,23.94],[36.0,23.4],[36.37,23.54],[36.7,23.68],[37.0,23.8],[37.4,23.9],[37.8,23.74],[38.3,23.94],[38.6,23.6],[38.97,23.54],[39.3,23.68],[39.65,23.44],[39.85,23.2],[40.16,23.4],[40.5,23.48],[40.9,23.34],[41.2,23.4],[41.46,23.54],[41.7,23.48],[42.08,23.6],[42.5,23.74],[42.75,23.54],[43.0,23.8],[43.3,23.74],[43.75,23.15],[44.15,23.4],[44.57,24.33],[44.85,24.19],[45.3,24.39],[45.6,24.27],[45.9,24.07],[46.1,23.74],[46.5,23.4],[46.86,23.28],[47.17,23.4],[47.53,23.4],[47.95,23.34],[48.3,23.2],[48.68,23.34],[49.1,23.4],[49.45,23.54],[49.97,23.8],[50.4,24.07],[50.8,23.88],[51.17,23.74],[51.5,23.88],[51.85,23.54],[52.2,23.88],[52.57,24.19],[52.9,24.53],[53.25,24.73],[53.6,24.19],[53.87,23.8],[54.13,23.4],[54.4,22.89],[54.65,23.6],[54.96,23.8],[55.3,23.68],[55.43,24.0],[55.74,24.39],[56.0,24.33],[56.26,24.13],[56.5,24.33],[56.9,24.67],[57.24,24.67],[57.5,24.73],[57.8,24.53],[58.2,24.47],[58.55,24.33],[58.8,24.13],[59.06,24.07],[59.4,24.27],[59.73,24.47],[60.0,23.94],[60.26,23.6],[60.6,23.68],[60.9,23.54],[61.3,23.48],[61.65,23.54],[62.07,23.74],[62.4,23.94],[62.75,24.03],[63.1,23.94],[63.47,23.8],[63.8,23.68],[64.15,23.54],[64.5,23.7],[64.8,23.74],[65.2,23.8],[65.45,23.6],[65.86,23.48],[66.2,23.34],[66.5,23.54],[66.65,24.07],[66.85,24.39],[67.1,24.33],[67.4,24.39],[67.6,24.92],[67.7,25.58],[67.94,25.18],[68.2,24.92],[68.46,24.99],[68.7,24.73],[69.0,24.6],[69.45,24.73],[69.86,24.86],[70.2,25.06],[70.5,25.12],[70.74,25.26],[71.0,25.38],[71.26,25.18],[71.78,25.38],[72.3,25.56],[72.6,25.38],[72.97,25.12],[73.2,24.86],[73.4,24.19],[73.65,24.13],[73.9,23.94],[74.17,23.68],[74.43,23.44]];

const FONT='"Liberation Sans", Arial, Helvetica, sans-serif';
const RED='#ff2a22';
const svg=d3.select('#c');
const x=d3.scaleLinear().domain([25,75]).range([76,1039]);
const y=d3.scaleLinear().domain([22,32]).range([538,32.5]);
const line=d3.line().x(d=>x(d[0])).y(d=>y(d[1]));

function drawRaw(data,color){
  const g=svg.append('g');
  g.append('path').datum(data).attr('fill','none').attr('stroke',color).attr('stroke-width',1).attr('d',line);
  g.selectAll('rect').data(data).join('rect')
    .attr('x',d=>x(d[0])-1.5).attr('y',d=>y(d[1])-1.5)
    .attr('width',3).attr('height',3).attr('fill',color);
}
function drawSmooth(data,color){
  svg.append('path').datum(data).attr('fill','none').attr('stroke',color)
    .attr('stroke-width',4).attr('stroke-linejoin','round').attr('stroke-linecap','round').attr('d',line);
}
drawRaw(rawA,'#78a9f5');
drawRaw(rawB,'#8a8a8a');
drawRaw(rawC,'#e0581c');
drawSmooth(smoothA,'#0a30ff');
drawSmooth(smoothB,'#000000');
drawSmooth(smoothC,'#ff2a00');

// x axis
const gx=svg.append('g').attr('transform','translate(0,545)')
  .call(d3.axisBottom(x).tickValues(xTicks).tickSize(-7).tickSizeOuter(0).tickPadding(17).tickFormat(d3.format('d')))
  .attr('font-size',19).attr('font-family',FONT);
gx.select('.domain').attr('stroke','#000').attr('stroke-width',2);
gx.selectAll('.tick line').attr('stroke','#000').attr('stroke-width',2);
gx.selectAll('.tick text').attr('fill','#222');
const gxm=svg.append('g').attr('transform','translate(0,545)')
  .call(d3.axisBottom(x).tickValues(xMinor).tickSize(-4).tickFormat(''));
gxm.select('.domain').remove();
gxm.selectAll('.tick line').attr('stroke','#000').attr('stroke-width',2);

// y axis
const gy=svg.append('g').attr('transform','translate(61,0)')
  .call(d3.axisLeft(y).tickValues(yTicks).tickSize(-6).tickSizeOuter(0).tickPadding(6).tickFormat(d3.format('d')))
  .attr('font-size',19).attr('font-family',FONT);
gy.select('.domain').attr('stroke',RED).attr('stroke-width',2);
gy.selectAll('.tick line').attr('stroke',RED).attr('stroke-width',2);
gy.selectAll('.tick text').attr('fill',RED);
const gym=svg.append('g').attr('transform','translate(61,0)')
  .call(d3.axisLeft(y).tickValues(yMinor).tickSize(-3).tickFormat(''));
gym.select('.domain').remove();
gym.selectAll('.tick line').attr('stroke',RED).attr('stroke-width',2);

// titles
svg.append('text').attr('x',557).attr('y',597).attr('text-anchor','middle')
  .attr('font-size',19).attr('font-family',FONT).attr('fill','#222').text(xTitle);
svg.append('text').attr('transform','translate(27,285) rotate(-90)').attr('text-anchor','middle')
  .attr('font-size',19).attr('font-family',FONT).attr('fill',RED).text(yTitle);

// series labels
const labelPos=[[1030,110,'#2a3cf0'],[1041,337,'#111'],[1044,480,RED]];
seriesLabels.forEach((s,i)=>{
  svg.append('text').attr('x',labelPos[i][0]).attr('y',labelPos[i][1]).attr('text-anchor','middle')
    .attr('font-size',19).attr('font-family',FONT).attr('fill',labelPos[i][2]).text(s);
});
</script></body></html>
